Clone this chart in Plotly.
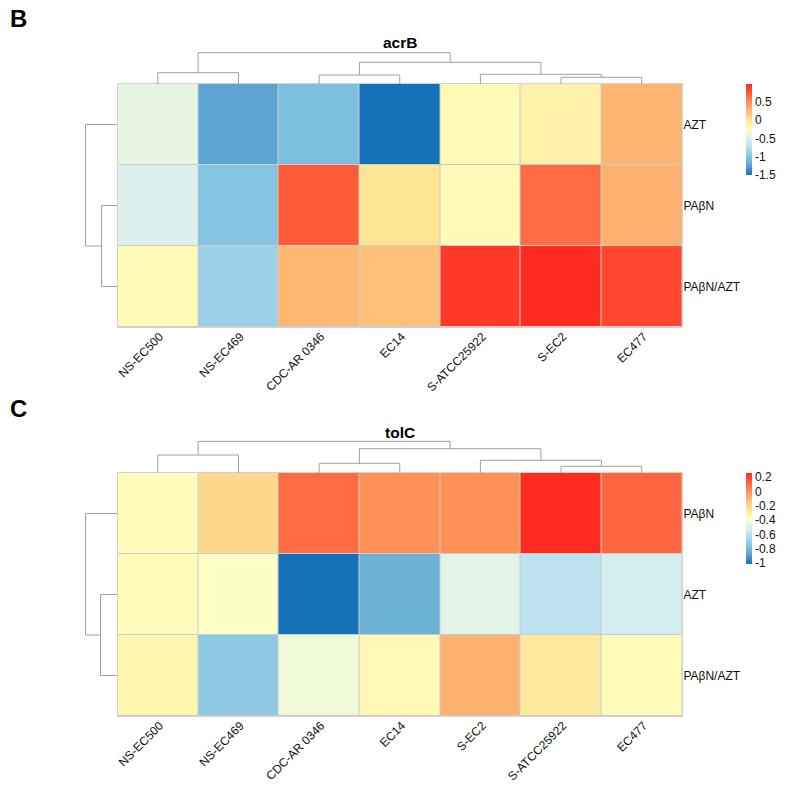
import plotly.graph_objects as go

W = 786
H = 785

# panel B, acrB
acrb_cols = ["NS-EC500", "NS-EC469", "CDC-AR 0346", "EC14", "S-ATCC25922", "S-EC2", "EC477"]
acrb_rows = ["AZT", "PA\u03b2N", "PA\u03b2N/AZT"]
acrb_azt = [-0.41, -1.23, -1.05, -1.50, -0.21, -0.13, 0.29]
acrb_pabn = [-0.48, -1.00, 0.74, -0.01, -0.21, 0.66, 0.31]
acrb_both = [-0.21, -0.88, 0.27, 0.22, 0.91, 0.986, 0.84]
acrb_ticks = [0.5, 0, -0.5, -1, -1.5]
acrb_ticktext = ["0.5", "0", "-0.5", "-1", "-1.5"]

# panel C, tolC
tolc_cols = ["NS-EC500", "NS-EC469", "CDC-AR 0346", "EC14", "S-EC2", "S-ATCC25922", "EC477"]
tolc_rows = ["PA\u03b2N", "AZT", "PA\u03b2N/AZT"]
tolc_pabn = [-0.365, -0.21, 0.09, 0.0, 0.0, 0.255, 0.10]
tolc_azt = [-0.365, -0.39, -1.01, -0.83, -0.47, -0.59, -0.52]
tolc_both = [-0.33, -0.73, -0.43, -0.34, -0.09, -0.28, -0.365]
tolc_ticks = [0.2, 0, -0.2, -0.4, -0.6, -0.8, -1]
tolc_ticktext = ["0.2", "0", "-0.2", "-0.4", "-0.6", "-0.8", "-1"]

# dendrograms: (left node, right node, height). ints are leaves, "m0" etc are earlier merges
col_tree = [(0, 1), (2, 3), (5, 6), (4, "m2"), ("m1", "m3"), ("m0", "m4")]
row_tree = [(1, 2), (0, "m0")]
acrb_col_heights = [11.3, 9.0, 6.7, 9.7, 21.7, 31.3]
acrb_row_heights = [16, 32]
tolc_col_heights = [18.0, 9.7, 6.7, 12.7, 24.3, 31.7]
tolc_row_heights = [17, 32]

colors = [[0, "#1473B8"], [0.11, "#5EA6D1"], [0.18, "#7CBFDE"], [0.25, "#9BD0E6"], [0.33, "#BEE2F0"],
          [0.42, "#E0F3EE"], [0.5, "#FFFFBF"], [0.6, "#FEE495"], [0.7, "#FEBE78"], [0.8, "#FF9055"],
          [0.88, "#FF6640"], [1, "#FF2A20"]]

FONT = "Liberation Sans"
LINE = "#a0a0a0"


def dendro_path(tree, heights):
    # walk the merges and return the bracket line for each one
    nodes = {}
    xs, ys = [], []
    for i, (a, b) in enumerate(tree):
        pa, ha = nodes.get(a, (a, 0))
        pb, hb = nodes.get(b, (b, 0))
        h = heights[i]
        xs += [pa, pa, pb, pb, None]
        ys += [ha, h, h, hb, None]
        nodes["m%d" % i] = ((pa + pb) / 2, h)
    return xs, ys


fig = go.Figure()
layout = {}
shapes = []


def add_panel(n, top, rows, cols, values, zmin, zmax, ticks, ticktext, col_h, row_h, bar_h):
    bottom = top + 243
    left, right = 117.5, 682
    # axis numbering: heatmap n, top dendrogram n+1, left dendrogram n+2
    xd = [left / W, right / W]
    yd = [1 - bottom / H, 1 - top / H]
    fig.add_trace(go.Heatmap(z=values, x=list(range(7)), y=list(range(3)), zmin=zmin, zmax=zmax,
                             colorscale=colors, xgap=1, ygap=1,
                             xaxis="x%d" % n, yaxis="y%d" % n,
                             colorbar=dict(x=746 / W, xanchor="left", xpad=0, ypad=0,
                                           y=1 - top / H, yanchor="top", len=bar_h / H, lenmode="fraction",
                                           thickness=6, outlinewidth=0, ticks="", ticklen=0,
                                           tickvals=ticks, ticktext=ticktext,
                                           tickfont=dict(family=FONT, size=12, color="#111"))))
    # grey rect behind the heatmap shows through the cell gaps as the borders
    shapes.append(dict(type="rect", xref="x%d domain" % n, yref="y%d domain" % n, x0=0, x1=1, y0=0, y1=1,
                       fillcolor="#cccccc", line_width=0, layer="below"))
    layout["xaxis%d" % n] = dict(domain=xd, anchor="y%d" % n, range=[-0.5, 6.5], tickmode="array",
                                 tickvals=list(range(7)), ticktext=cols, tickangle=-45, ticks="",
                                 ticklabelshift=2, ticklabelstandoff=-3,
                                 showgrid=False, zeroline=False, showline=True, mirror=True,
                                 linecolor="#d2d2d2", linewidth=1,
                                 tickfont=dict(family=FONT, size=12, color="#111"))
    layout["yaxis%d" % n] = dict(domain=yd, anchor="x%d" % n, range=[2.5, -0.5], side="right", tickmode="array",
                                 tickvals=list(range(3)), ticktext=rows, ticks="", showgrid=False,
                                 ticklabelstandoff=-2,
                                 zeroline=False, showline=True, mirror=True, linecolor="#d2d2d2", linewidth=1,
                                 tickfont=dict(family=FONT, size=12, color="#111"))

    xs, ys = dendro_path(col_tree, col_h)
    fig.add_trace(go.Scatter(x=xs, y=ys, mode="lines", line=dict(color=LINE, width=1), hoverinfo="skip",
                             xaxis="x%d" % (n + 1), yaxis="y%d" % (n + 1), showlegend=False))
    layout["xaxis%d" % (n + 1)] = dict(domain=xd, anchor="y%d" % (n + 1), range=[-0.5, 6.5], visible=False)
    layout["yaxis%d" % (n + 1)] = dict(domain=[1 - top / H, 1 - (top - 34) / H], anchor="x%d" % (n + 1),
                                       range=[0, 34], visible=False)

    ps, hs = dendro_path(row_tree, row_h)
    fig.add_trace(go.Scatter(x=hs, y=ps, mode="lines", line=dict(color=LINE, width=1), hoverinfo="skip",
                             xaxis="x%d" % (n + 2), yaxis="y%d" % (n + 2), showlegend=False))
    layout["xaxis%d" % (n + 2)] = dict(domain=[(left - 34) / W, left / W], anchor="y%d" % (n + 2),
                                       range=[34, 0], visible=False)
    layout["yaxis%d" % (n + 2)] = dict(domain=yd, anchor="x%d" % (n + 2), range=[2.5, -0.5], visible=False)


add_panel(2, 84, acrb_rows, acrb_cols, [acrb_azt, acrb_pabn, acrb_both], -1.5, 0.986,
          acrb_ticks, acrb_ticktext, acrb_col_heights, acrb_row_heights, 91)
add_panel(5, 473, tolc_rows, tolc_cols, [tolc_pabn, tolc_azt, tolc_both], -1.01, 0.255,
          tolc_ticks, tolc_ticktext, tolc_col_heights, tolc_row_heights, 91)


def note(text, x, y, size):
    return dict(text="<b>%s</b>" % text, x=x / W, y=1 - y / H, xref="paper", yref="paper", showarrow=False,
                xanchor="center", yanchor="middle", font=dict(family=FONT, size=size, color="#000"))


fig.update_layout(width=W, height=H, margin=dict(l=0, r=0, t=0, b=0, autoexpand=False), paper_bgcolor="white",
                  plot_bgcolor="white", showlegend=False, shapes=shapes,
                  annotations=[note("B", 18, 19, 24), note("acrB", 399.5, 43, 15.5),
                               note("C", 18, 408, 24), note("tolC", 399.5, 432, 15.5)],
                  **layout)
fig.write_html("out.html", post_script="document.body.style.margin='0';", config={"displayModeBar": False})
